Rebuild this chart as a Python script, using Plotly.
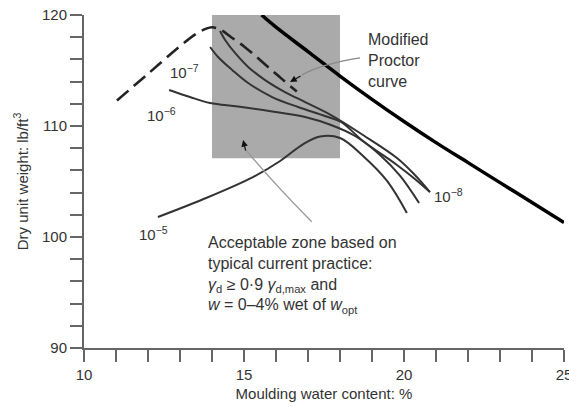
import plotly.graph_objects as go

# ---- data ----
zone_x = [14, 18]
zone_y = [107.1, 120]

zav_x = [15.55, 16.0, 17.0, 18.0, 19.0, 20.0, 21.0, 22.0, 23.0, 24.0, 25.0]
zav_y = [120.0, 118.9, 116.7, 114.5, 112.4, 110.4, 108.5, 106.7, 104.9, 103.1, 101.3]

proctor_x = [11.03, 12.0, 13.0, 13.5, 13.8, 14.0, 14.25, 14.6, 15.03, 15.4, 15.76, 16.2, 16.65]
proctor_y = [112.3, 114.7, 117.2, 118.3, 118.75, 118.9, 118.7, 118.0, 117.1, 116.2, 115.3, 114.2, 113.1]

c8_x = [14.25, 14.41, 14.72, 15.13, 15.66, 16.28, 16.91, 17.72, 18.72, 19.78, 20.34, 20.81]
c8_y = [118.56, 117.75, 116.58, 115.32, 114.14, 113.06, 112.16, 110.99, 109.19, 107.12, 105.59, 104.05]

c7_x = [13.94, 14.19, 14.63, 15.13, 15.88, 16.69, 17.53, 18.03, 18.72, 19.78, 20.34, 20.81]
c7_y = [117.12, 116.22, 115.05, 113.87, 112.61, 111.71, 110.90, 110.36, 108.65, 106.49, 105.23, 104.05]

c6_x = [12.66, 13.31, 13.94, 14.81, 15.88, 16.91, 17.72, 18.47, 19.25, 19.88, 20.47]
c6_y = [113.24, 112.61, 112.07, 111.76, 111.31, 110.81, 110.09, 109.10, 107.39, 105.50, 103.06]

c5_x = [12.31, 13.72, 15.28, 16.13, 16.84, 17.38, 18.0, 18.72, 19.47, 20.09]
c5_y = [101.80, 103.40, 105.40, 106.85, 108.35, 109.05, 108.92, 107.30, 105.05, 102.16]

curve_labels = ["10<sup>−8</sup>", "10<sup>−7</sup>", "10<sup>−6</sup>", "10<sup>−5</sup>"]

FONT = "Liberation Sans, Arial, sans-serif"
TXT = "#333333"

fig = go.Figure()

# acceptable zone rectangle
fig.add_shape(type="rect", xref="x", yref="y",
              x0=zone_x[0], x1=zone_x[1], y0=zone_y[0], y1=zone_y[1],
              fillcolor="#aaaaaa", line=dict(width=0), layer="below")

fig.add_trace(go.Scatter(x=zav_x, y=zav_y, mode="lines", line_shape="spline",
                         line=dict(color="#000000", width=3.5), showlegend=False))
fig.add_trace(go.Scatter(x=proctor_x, y=proctor_y, mode="lines", line_shape="spline",
                         line=dict(color="#222222", width=2.6, dash="15px,7px"),
                         showlegend=False))
for cx, cy in [(c8_x, c8_y), (c7_x, c7_y), (c6_x, c6_y), (c5_x, c5_y)]:
    fig.add_trace(go.Scatter(x=cx, y=cy, mode="lines", line_shape="spline",
                             line=dict(color="#333333", width=2), showlegend=False))

# curved pointer lines
fig.add_shape(type="path", xref="x", yref="y",
              path="M 18.625,116.13 Q 17.44,115.59 16.81,114.6",
              line=dict(color="#888888", width=1.2))
fig.add_shape(type="path", xref="x", yref="y",
              path="M 17.116,101.38 Q 15.97,104.68 15.06,107.84",
              line=dict(color="#999999", width=1.3))

ann = []
ann.append(dict(x=16.44, y=113.96, ax=12, ay=-7, showarrow=True, arrowhead=2,
                arrowsize=1.1, arrowwidth=1.2, arrowcolor="#111111", text=""))
ann.append(dict(x=14.97, y=108.74, ax=3, ay=12, showarrow=True, arrowhead=2,
                arrowsize=1.1, arrowwidth=1.2, arrowcolor="#111111", text=""))

label_pos = [(20.88, 103.7), (12.62, 114.9), (11.9, 111.0), (11.66, 100.3)]
for (lx, ly), t in zip(label_pos, curve_labels):
    ann.append(dict(x=lx, y=ly, text=t, showarrow=False, xanchor="left",
                    yanchor="middle", font=dict(family=FONT, size=15, color=TXT)))

ann.append(dict(x=18.8, y=115.9, text="Modified<br>Proctor<br>curve", showarrow=False,
                xanchor="left", yanchor="middle", align="left",
                font=dict(family=FONT, size=16, color=TXT)))
ann.append(dict(x=13.82, y=96.6,
                text="Acceptable zone based on<br>typical current practice:<br>"
                     "<i>γ</i><sub>d</sub> ≥ 0·9 <i>γ</i><sub>d,max</sub> and<br>"
                     "<i>w</i> = 0–4% wet of <i>w</i><sub>opt</sub>",
                showarrow=False, xanchor="left", yanchor="middle", align="left",
                font=dict(family=FONT, size=16, color=TXT)))

fig.update_layout(
    width=569, height=407,
    margin=dict(l=84, r=5, t=15, b=59, autoexpand=False),
    paper_bgcolor="white", plot_bgcolor="white",
    annotations=ann,
    font=dict(family=FONT, size=15, color=TXT),
    xaxis=dict(range=[10, 25], tickmode="linear", tick0=10, dtick=5,
               ticks="outside", ticklen=12, tickwidth=1.5, tickcolor="#666666",
               showline=True, linecolor="#666666", linewidth=2, showgrid=False,
               zeroline=False, ticklabeloverflow="allow", automargin=False,
               minor=dict(dtick=1, ticks="outside", ticklen=12, tickwidth=1.5,
                          tickcolor="#666666", showgrid=False),
               title=dict(text="Moulding water content: %", standoff=6,
                          font=dict(family=FONT, size=15, color=TXT)),
               tickfont=dict(family=FONT, size=15, color=TXT)),
    yaxis=dict(range=[90, 120], tickmode="linear", tick0=90, dtick=10,
               ticks="outside", ticklen=12, tickwidth=1.5, tickcolor="#666666",
               showline=True, linecolor="#666666", linewidth=2, showgrid=False,
               zeroline=False, ticklabeloverflow="allow", automargin=False,
               minor=dict(dtick=2, ticks="outside", ticklen=12, tickwidth=1.5,
                          tickcolor="#666666", showgrid=False),
               title=dict(text="Dry unit weight: lb/ft<sup>3</sup>", standoff=10,
                          font=dict(family=FONT, size=15, color=TXT)),
               tickfont=dict(family=FONT, size=15, color=TXT)),
)

fig.write_html("out.html")
